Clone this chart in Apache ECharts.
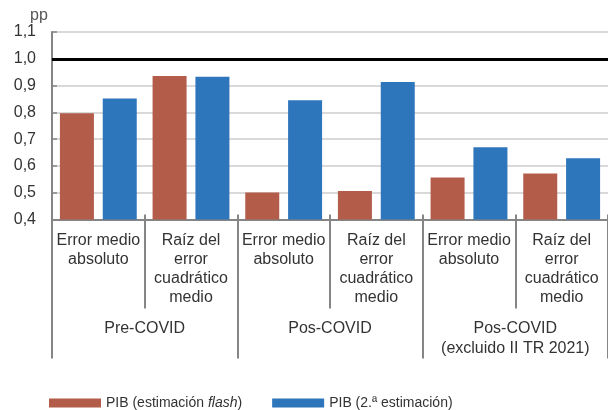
<!DOCTYPE html>
<html>
<head>
<meta charset="utf-8">
<script src="https://cdn.jsdelivr.net/npm/echarts@6/dist/echarts.min.js"></script>
<style>
  html, body { margin: 0; padding: 0; background: #fff; }
  #chart { width: 608px; height: 410px; }
</style>
</head>
<body>
<div id="chart"></div>
<script>
// datos
const categories = [
  'Error medio\nabsoluto', 'Raíz del\nerror\ncuadrático\nmedio',
  'Error medio\nabsoluto', 'Raíz del\nerror\ncuadrático\nmedio',
  'Error medio\nabsoluto', 'Raíz del\nerror\ncuadrático\nmedio'
];
const groups = ['Pre-COVID', 'Pos-COVID', 'Pos-COVID\n(excluido II TR 2021)'];
const flashName = 'PIB (estimación flash)';
const secondName = 'PIB (2.ª estimación)';
const flashValues = [0.797, 0.936, 0.501, 0.506, 0.557, 0.572];
const secondValues = [0.852, 0.933, 0.845, 0.913, 0.670, 0.629];
const yMin = 0.4;
const yMax = 1.1;
const yStep = 0.1;
const refLine = 1.0;

const FONT = 'Liberation Sans, Arial, sans-serif';
const GREY = '#858585';

const chart = echarts.init(document.getElementById('chart'));

const option = {
  animation: false,
  textStyle: { fontFamily: FONT },
  title: {
    text: 'pp',
    left: 30, top: 8, padding: 0,
    textStyle: { fontFamily: FONT, fontSize: 16, fontWeight: 'normal', color: '#555' }
  },
  grid: { left: 52, right: -2, top: 32, bottom: 190.5, containLabel: false },
  legend: {
    left: 49, top: 396, padding: 0,
    icon: 'rect', itemWidth: 52, itemHeight: 9, itemGap: 30,
    data: [flashName, secondName],
    formatter: function (name) {
      if (name === flashName) return '{n|PIB (estimación }{i|flash}{n|)}';
      return '{n|' + name + '}';
    },
    textStyle: {
      fontFamily: FONT, fontSize: 14, color: '#333',
      rich: {
        n: { fontFamily: FONT, fontSize: 14, color: '#333' },
        i: { fontFamily: FONT, fontSize: 14, color: '#333', fontStyle: 'italic' }
      }
    }
  },
  xAxis: [
    {
      type: 'category',
      data: categories,
      position: 'bottom',
      axisLine: { show: true, lineStyle: { color: GREY, width: 2 } },
      axisTick: { show: true, interval: 0, length: 89, lineStyle: { color: GREY, width: 2 } },
      axisLabel: { interval: 0, margin: 12, fontSize: 16, lineHeight: 19, color: '#333', fontFamily: FONT }
    },
    {
      type: 'category',
      data: groups,
      position: 'bottom',
      axisLine: { show: false },
      axisTick: { show: true, interval: 0, length: 139, lineStyle: { color: GREY, width: 2 } },
      axisLabel: { interval: 0, margin: 99, fontSize: 16, lineHeight: 20, color: '#333', fontFamily: FONT }
    },
    {
      type: 'category',
      data: categories,
      position: 'bottom',
      axisLine: { show: false },
      axisTick: { show: true, inside: true, interval: 0, length: 5, lineStyle: { color: GREY, width: 2 } },
      axisLabel: { show: false }
    }
  ],
  yAxis: {
    type: 'value',
    min: yMin, max: yMax, interval: yStep,
    axisLine: { show: true, lineStyle: { color: GREY, width: 2 } },
    axisTick: { show: true, inside: true, length: 5, lineStyle: { color: GREY, width: 1.5 } },
    axisLabel: {
      margin: 16, fontSize: 16, color: '#333', fontFamily: FONT,
      formatter: v => v.toFixed(1).replace('.', ',')
    },
    splitLine: { show: true, lineStyle: { color: '#cccccc', width: 1.5 } }
  },
  series: [
    {
      name: flashName,
      type: 'bar',
      data: flashValues,
      barWidth: 34,
      barGap: '26%',
      itemStyle: { color: '#b45c4a' },
      markLine: {
        silent: true,
        symbol: 'none',
        label: { show: false },
        lineStyle: { color: '#000', width: 3, type: 'solid' },
        data: [{ yAxis: refLine }]
      },
      z: 2
    },
    {
      name: secondName,
      type: 'bar',
      data: secondValues,
      barWidth: 34,
      itemStyle: { color: '#2e76bb' },
      z: 2
    }
  ]
};

chart.setOption(option);
</script>
</body>
</html>
